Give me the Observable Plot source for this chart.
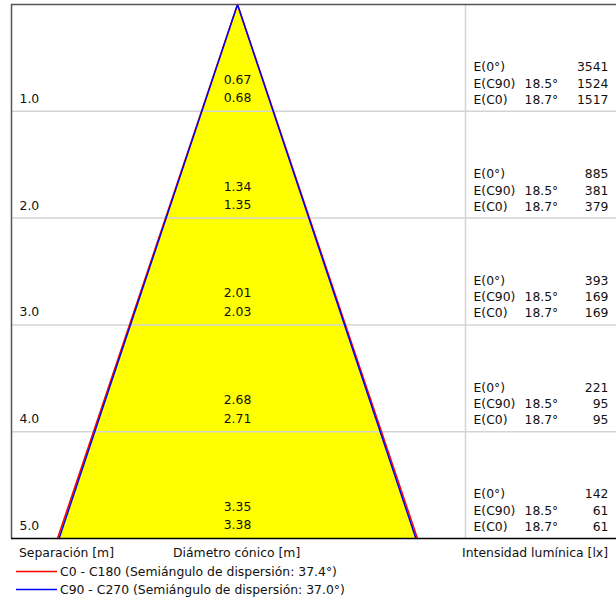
<!DOCTYPE html>
<html>
<head>
<meta charset="utf-8">
<script src="https://cdn.jsdelivr.net/npm/d3@7"></script>
<script src="https://cdn.jsdelivr.net/npm/@observablehq/plot@0.6"></script>
<style>
  body { margin: 0; background: #fff; }
  #wrap { position: relative; width: 616px; height: 602px; font-family: "DejaVu Sans", sans-serif; font-size: 12.4px; color: #111; }
  #wrap svg.plot { position: absolute; left: 0; top: 0; }
  .lbl { position: absolute; white-space: nowrap; line-height: 14px; }
  .leg { position: absolute; left: 16px; white-space: nowrap; display: flex; align-items: center; line-height: 14px; }
  .leg svg { margin-right: 3px; }
</style>
</head>
<body>
<div id="wrap"></div>
<script>
// ---- data ----
const distances = [1, 2, 3, 4, 5];
const diamC90 = [0.67, 1.34, 2.01, 2.68, 3.35];
const diamC0 = [0.68, 1.35, 2.03, 2.71, 3.38];
const e0 = [3541, 885, 393, 221, 142];
const eC90 = [1524, 381, 169, 95, 61];
const eC0 = [1517, 379, 169, 95, 61];
const angleC90 = "18.5°";
const angleC0 = "18.7°";
const seriesNames = ["C0 - C180 (Semiángulo de dispersión: 37.4°)", "C90 - C270 (Semiángulo de dispersión: 37.0°)"];
const seriesColors = ["#ff0000", "#0000ff"];

const rows = distances.map((d, i) => ({
  d, c90: diamC90[i], c0: diamC0[i], e0: e0[i], eC90: eC90[i], eC0: eC0[i]
}));
const last = rows[rows.length - 1];

// layout helpers (pixel center of cone, px per metre)
const W = 616, cx = 237, k = 106.5;
const xDomain = [(11 - cx) / k, (W - cx) / k];
const divider = (465 - cx) / k;

const coneC0 = [{x: -last.c0 / 2, y: last.d}, {x: 0, y: 0}, {x: last.c0 / 2, y: last.d}];
const coneC90 = [{x: -last.c90 / 2, y: last.d}, {x: 0, y: 0}, {x: last.c90 / 2, y: last.d}];
const fillData = [{y: 0, x1: 0, x2: 0}, {y: last.d, x1: -last.c0 / 2, x2: last.c0 / 2}];

const font = "DejaVu Sans";
const fs = 12.4;
const txt = "#111";

const plot = Plot.plot({
  width: W,
  height: 541,
  marginLeft: 11,
  marginRight: 0,
  marginTop: 4,
  marginBottom: 3,
  x: {domain: xDomain, axis: null},
  y: {domain: [0, 5], reverse: true, axis: null},
  style: {fontFamily: font, fontSize: fs + "px", background: "white"},
  marks: [
    Plot.areaX(fillData, {y: "y", x1: "x1", x2: "x2", fill: "#ffff00"}),
    Plot.ruleY([1, 2, 3, 4], {stroke: "#d4d4d4", strokeWidth: 1.5}),
    Plot.ruleX([divider], {y1: 0, y2: 5, stroke: "#d4d4d4", strokeWidth: 1.5}),
    Plot.line(coneC0, {x: "x", y: "y", stroke: seriesColors[0], strokeWidth: 1.5}),
    Plot.line(coneC90, {x: "x", y: "y", stroke: seriesColors[1], strokeWidth: 1.5}),
    Plot.ruleX([xDomain[0]], {y1: 0, y2: 5, stroke: "#555", strokeWidth: 1.5}),
    Plot.ruleY([0], {stroke: "#555", strokeWidth: 1.5}),
    Plot.ruleY([5], {stroke: "#000", strokeWidth: 1.5}),
    // distance labels
    Plot.text(rows, {y: "d", frameAnchor: "left", dx: 8, dy: -12.5, text: d => d.d.toFixed(1), textAnchor: "start", fill: txt, fontSize: fs}),
    // cone diameters
    Plot.text(rows, {x: 0, y: "d", dy: -31.5, text: d => d.c90.toFixed(2), fill: txt, fontSize: fs}),
    Plot.text(rows, {x: 0, y: "d", dy: -13, text: d => d.c0.toFixed(2), fill: txt, fontSize: fs}),
    // right panel
    Plot.text(rows, {x: divider, y: "d", dx: 8, dy: -44, text: () => "E(0°)", textAnchor: "start", fill: txt, fontSize: fs}),
    Plot.text(rows, {x: divider, y: "d", dx: 8, dy: -27.5, text: () => "E(C90)", textAnchor: "start", fill: txt, fontSize: fs}),
    Plot.text(rows, {x: divider, y: "d", dx: 8, dy: -11.5, text: () => "E(C0)", textAnchor: "start", fill: txt, fontSize: fs}),
    Plot.text(rows, {x: divider, y: "d", dx: 59, dy: -27.5, text: () => angleC90, textAnchor: "start", fill: txt, fontSize: fs}),
    Plot.text(rows, {x: divider, y: "d", dx: 59, dy: -11.5, text: () => angleC0, textAnchor: "start", fill: txt, fontSize: fs}),
    Plot.text(rows, {frameAnchor: "right", y: "d", dx: -8, dy: -44, text: d => String(d.e0), textAnchor: "end", fill: txt, fontSize: fs}),
    Plot.text(rows, {frameAnchor: "right", y: "d", dx: -8, dy: -27.5, text: d => String(d.eC90), textAnchor: "end", fill: txt, fontSize: fs}),
    Plot.text(rows, {frameAnchor: "right", y: "d", dx: -8, dy: -11.5, text: d => String(d.eC0), textAnchor: "end", fill: txt, fontSize: fs})
  ]
});
plot.classList.add("plot");
const wrap = document.getElementById("wrap");
wrap.appendChild(plot);

function addLabel(text, styles) {
  const el = document.createElement("div");
  el.className = "lbl";
  el.textContent = text;
  Object.assign(el.style, styles);
  wrap.appendChild(el);
}
addLabel("Separación [m]", {left: "19px", top: "546px"});
addLabel("Diámetro cónico [m]", {left: "173px", top: "546px"});
addLabel("Intensidad lumínica [lx]", {right: "8px", top: "546px"});

seriesNames.forEach((name, i) => {
  const el = document.createElement("div");
  el.className = "leg";
  el.style.top = (i === 0 ? 565 : 583) + "px";
  el.innerHTML = `<svg width="41" height="14"><line x1="0" x2="41" y1="6.5" y2="6.5" stroke="${seriesColors[i]}" stroke-width="1.5"/></svg>`;
  const span = document.createElement("span");
  span.textContent = name;
  el.appendChild(span);
  wrap.appendChild(el);
});
</script>
</body>
</html>
